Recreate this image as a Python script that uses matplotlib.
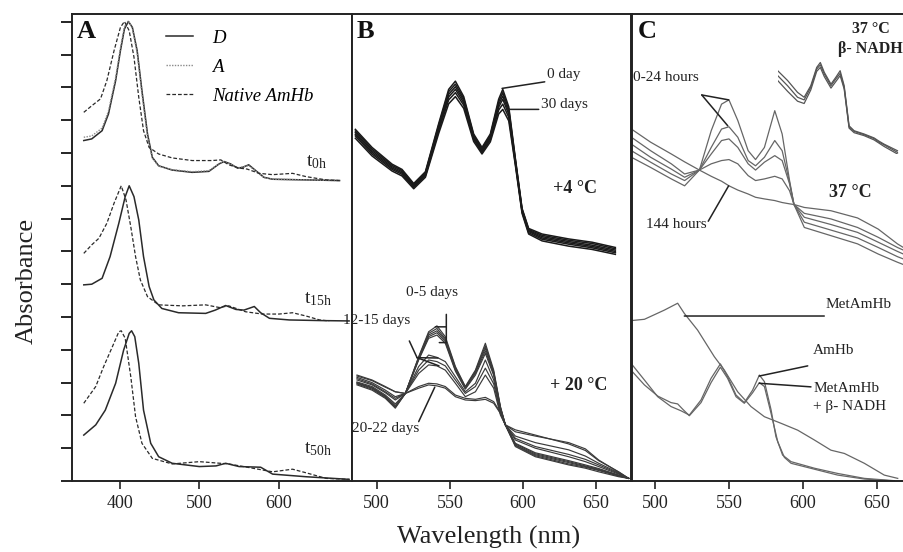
import matplotlib
matplotlib.use('Agg')
import matplotlib.pyplot as plt

plt.rcParams['font.family'] = ['Liberation Serif', 'DejaVu Serif']
plt.rcParams['mathtext.fontset'] = 'custom'
plt.rcParams['mathtext.rm'] = 'Liberation Serif'
plt.rcParams['mathtext.it'] = 'Liberation Serif:italic'

# ---------------- Panel A data (wavelength nm, absorbance a.u.) ----------------
A_wl_D_top = [355, 365, 378, 386, 395, 401, 406, 411, 416, 422, 428, 435, 441, 449, 466, 491, 512, 525, 531, 539, 548, 554, 562, 571, 581, 592, 634, 676]
A_D_top = [10.38, 10.43, 10.68, 11.19, 12.21, 13.12, 13.78, 14.01, 13.83, 13.12, 11.90, 10.58, 9.87, 9.61, 9.48, 9.41, 9.44, 9.67, 9.74, 9.67, 9.54, 9.56, 9.64, 9.46, 9.26, 9.20, 9.18, 9.16]
A_A_top = [10.48, 10.52, 10.76, 11.28, 12.30, 13.20, 13.85, 14.03, 13.80, 13.05, 11.80, 10.50, 9.84, 9.60, 9.49, 9.43, 9.46, 9.68, 9.74, 9.66, 9.55, 9.57, 9.62, 9.45, 9.25, 9.20, 9.18, 9.16]
A_wl_N_top = [355, 365, 376, 384, 393, 401, 406, 412, 418, 424, 430, 437, 449, 466, 491, 516, 527, 537, 550, 560, 575, 592, 617, 634, 659, 676]
A_N_top = [11.24, 11.44, 11.65, 12.21, 13.12, 13.83, 14.01, 13.73, 12.92, 11.70, 10.68, 10.17, 9.97, 9.85, 9.77, 9.77, 9.79, 9.64, 9.54, 9.51, 9.38, 9.34, 9.38, 9.28, 9.18, 9.16]

A_wl_D_mid = [355, 365, 378, 388, 399, 407, 412, 418, 424, 430, 437, 443, 453, 474, 508, 520, 533, 546, 556, 569, 577, 588, 613, 655, 688]
A_D_mid = [5.98, 6.00, 6.18, 6.84, 7.86, 8.67, 9.00, 8.67, 7.96, 6.84, 5.93, 5.52, 5.26, 5.13, 5.11, 5.21, 5.35, 5.23, 5.21, 5.32, 5.13, 4.96, 4.91, 4.89, 4.88]
A_wl_N_mid = [355, 365, 374, 384, 393, 402, 408, 414, 420, 426, 435, 449, 479, 508, 525, 537, 558, 579, 600, 617, 634, 651, 663]
A_N_mid = [6.94, 7.20, 7.40, 7.86, 8.47, 9.00, 8.57, 7.75, 6.84, 6.13, 5.62, 5.37, 5.34, 5.37, 5.29, 5.34, 5.16, 5.09, 5.09, 5.13, 5.03, 4.91, 4.88]

A_wl_D_bot = [355, 370, 382, 395, 405, 412, 415, 419, 424, 430, 439, 449, 466, 500, 521, 533, 550, 577, 592, 634, 688]
A_D_bot = [1.40, 1.71, 2.16, 2.98, 3.99, 4.50, 4.58, 4.40, 3.59, 2.16, 1.15, 0.74, 0.54, 0.44, 0.46, 0.54, 0.44, 0.42, 0.21, 0.13, 0.05]
A_wl_N_bot = [355, 370, 380, 391, 399, 402, 407, 414, 420, 428, 441, 466, 500, 537, 567, 592, 617, 634, 659, 688]
A_N_bot = [2.37, 2.88, 3.49, 4.10, 4.55, 4.58, 4.35, 3.18, 1.96, 1.15, 0.69, 0.52, 0.59, 0.52, 0.39, 0.28, 0.36, 0.25, 0.08, 0.05]

# ---------------- Panel B data ----------------
B_wl_top = [485.4, 496.8, 510.5, 517.3, 525.3, 533.3, 542.4, 549.2, 553.8, 559.5, 566.3, 572.0, 577.7, 583.4, 586.2, 590.3, 594.8, 599.4, 603.9, 613.1, 631.3, 647.3, 663.2]
B_top_4C = [
    [10.72, 10.17, 9.66, 9.50, 9.07, 9.43, 10.90, 11.94, 12.19, 11.72, 10.58, 10.17, 10.58, 11.64, 11.94, 11.41, 9.84, 8.31, 7.70, 7.53, 7.38, 7.28, 7.12],
    [10.67, 10.12, 9.62, 9.47, 9.04, 9.40, 10.85, 11.87, 12.10, 11.66, 10.54, 10.13, 10.54, 11.56, 11.84, 11.34, 9.81, 8.29, 7.67, 7.49, 7.34, 7.24, 7.08],
    [10.62, 10.07, 9.58, 9.43, 9.01, 9.37, 10.80, 11.79, 12.02, 11.60, 10.50, 10.09, 10.50, 11.48, 11.74, 11.26, 9.77, 8.26, 7.64, 7.45, 7.30, 7.19, 7.04],
    [10.57, 10.02, 9.54, 9.39, 8.98, 9.34, 10.74, 11.71, 11.94, 11.53, 10.46, 10.05, 10.45, 11.40, 11.64, 11.18, 9.73, 8.23, 7.61, 7.41, 7.26, 7.15, 7.00],
    [10.52, 9.97, 9.50, 9.35, 8.95, 9.30, 10.68, 11.62, 11.84, 11.46, 10.41, 10.01, 10.40, 11.31, 11.49, 11.09, 9.68, 8.20, 7.57, 7.37, 7.22, 7.11, 6.96],
    [10.45, 9.91, 9.45, 9.30, 8.91, 9.26, 10.60, 11.50, 11.72, 11.36, 10.35, 9.97, 10.34, 11.19, 11.33, 10.98, 9.63, 8.16, 7.53, 7.32, 7.16, 7.06, 6.91],
]
B_wl_bot = [486.5, 496.8, 505.9, 512.7, 519.6, 528.7, 535.5, 541.2, 546.9, 553.8, 560.6, 567.5, 574.3, 580.0, 584.6, 588.0, 594.8, 608.5, 631.3, 642.7, 651.8, 665.5, 672.3]
B_bot_20C = [
    [2.98, 2.83, 2.57, 2.27, 2.67, 3.79, 4.55, 4.73, 4.40, 3.49, 2.88, 3.38, 4.20, 3.38, 2.27, 1.71, 1.05, 0.74, 0.49, 0.39, 0.28, 0.13, 0.08],
    [3.00, 2.85, 2.59, 2.30, 2.67, 3.77, 4.50, 4.65, 4.34, 3.46, 2.86, 3.35, 4.12, 3.33, 2.25, 1.71, 1.08, 0.77, 0.52, 0.42, 0.32, 0.15, 0.08],
    [2.96, 2.80, 2.55, 2.25, 2.67, 3.74, 4.45, 4.58, 4.30, 3.43, 2.85, 3.32, 4.05, 3.30, 2.23, 1.71, 1.10, 0.80, 0.56, 0.44, 0.34, 0.16, 0.08],
    [3.02, 2.88, 2.62, 2.35, 2.67, 3.71, 4.40, 4.52, 4.25, 3.38, 2.82, 3.28, 3.97, 3.26, 2.21, 1.71, 1.13, 0.83, 0.59, 0.46, 0.36, 0.17, 0.08],
    [2.93, 2.77, 2.52, 2.22, 2.67, 3.69, 4.35, 4.45, 4.20, 3.35, 2.80, 3.23, 3.89, 3.22, 2.19, 1.71, 1.15, 0.86, 0.62, 0.49, 0.38, 0.18, 0.08],
    [3.08, 2.93, 2.69, 2.47, 2.67, 3.49, 3.84, 3.77, 3.64, 3.18, 2.72, 2.98, 3.69, 3.08, 2.11, 1.71, 1.25, 1.00, 0.74, 0.59, 0.44, 0.21, 0.08],
    [3.12, 2.96, 2.72, 2.52, 2.67, 3.38, 3.69, 3.64, 3.51, 3.08, 2.67, 2.88, 3.44, 2.96, 2.06, 1.71, 1.30, 1.05, 0.81, 0.66, 0.49, 0.23, 0.08],
    [3.16, 3.00, 2.77, 2.57, 2.67, 3.28, 3.54, 3.51, 3.38, 2.98, 2.57, 2.72, 3.23, 2.83, 2.01, 1.71, 1.37, 1.17, 0.95, 0.76, 0.54, 0.25, 0.08],
    [3.20, 3.06, 2.86, 2.72, 2.67, 2.88, 2.98, 2.96, 2.88, 2.62, 2.52, 2.49, 2.55, 2.42, 2.08, 1.71, 1.50, 1.37, 1.17, 0.98, 0.64, 0.27, 0.08],
    [3.23, 3.08, 2.88, 2.72, 2.67, 2.83, 2.93, 2.90, 2.83, 2.57, 2.47, 2.45, 2.49, 2.37, 2.06, 1.71, 1.56, 1.40, 1.13, 0.93, 0.62, 0.28, 0.08],
]

# ---------------- Panel C data ----------------
C_wl_top = [484, 497, 511, 520, 530, 538, 545, 550, 556, 563, 568, 574, 581, 586, 591, 594, 601, 619, 637, 651, 664, 668]
C_top_37C = [
    [9.87, 9.56, 9.21, 9.00, 9.48, 10.68, 11.49, 11.62, 10.99, 10.07, 9.80, 10.17, 11.29, 10.58, 9.16, 8.43, 7.73, 7.48, 7.23, 6.92, 6.67, 6.60],
    [10.07, 9.72, 9.36, 9.16, 9.48, 10.17, 10.73, 10.80, 10.48, 9.77, 9.61, 9.87, 10.38, 10.07, 9.11, 8.43, 7.89, 7.65, 7.41, 7.12, 6.84, 6.77],
    [10.27, 9.87, 9.51, 9.26, 9.48, 9.97, 10.38, 10.43, 10.17, 9.67, 9.48, 9.72, 9.92, 9.77, 9.06, 8.43, 8.04, 7.82, 7.58, 7.28, 7.00, 6.92],
    [10.48, 10.07, 9.67, 9.36, 9.48, 9.67, 9.77, 9.80, 9.67, 9.31, 9.16, 9.21, 9.29, 9.21, 8.85, 8.43, 8.16, 7.99, 7.73, 7.43, 7.12, 7.04],
    [10.73, 10.33, 9.97, 9.73, 9.48, 9.29, 9.14, 9.00, 8.87, 8.75, 8.65, 8.60, 8.55, 8.49, 8.45, 8.43, 8.34, 8.24, 8.02, 7.68, 7.23, 7.12],
]
C_wl_inset = [484, 499, 514, 524, 534, 543, 548.5, 554.5, 564.6, 572, 578.5, 584.6, 592, 599.6, 614.7, 629.8, 637.4, 645, 665.2]
C_inset_NADH = [
    [12.51, 12.21, 11.85, 11.70, 12.05, 12.61, 12.76, 12.46, 12.10, 12.31, 12.51, 12.05, 10.83, 10.68, 10.58, 10.46, 10.36, 10.27, 10.07],
    [12.36, 12.05, 11.70, 11.62, 12.00, 12.56, 12.69, 12.41, 12.05, 12.26, 12.43, 12.00, 10.80, 10.66, 10.56, 10.44, 10.33, 10.25, 10.02],
    [12.21, 11.88, 11.58, 11.51, 11.92, 12.49, 12.61, 12.33, 11.98, 12.18, 12.36, 11.95, 10.76, 10.62, 10.53, 10.40, 10.30, 10.20, 9.97],
]
C_wl_met = [483.7, 492.8, 506.3, 515.3, 519.8, 528.8, 540.1, 546.9, 555.9, 564.9, 574.0, 585.2, 596.5, 607.8, 619.0, 628.1, 641.6, 655.1, 664.2]
C_met = [4.89, 4.93, 5.21, 5.42, 5.11, 4.60, 3.79, 3.38, 2.72, 2.27, 1.96, 1.76, 1.55, 1.25, 0.94, 0.84, 0.54, 0.18, 0.08]
C_wl_amhb = [483.7, 492.8, 501.8, 510.8, 517.6, 523.2, 531.1, 537.9, 544.2, 549.1, 554.8, 560.4, 566.0, 570.6, 574.0, 578.5, 581.8, 586.3, 592.0, 607.8, 623.6, 641.6, 661.9]
C_amhb = [3.59, 3.08, 2.57, 2.27, 2.14, 2.01, 2.47, 3.13, 3.57, 3.18, 2.62, 2.39, 2.77, 3.23, 3.03, 2.17, 1.35, 0.79, 0.59, 0.39, 0.23, 0.08, 0.01]
C_wl_nadh = [483.7, 492.8, 501.8, 510.8, 515.3, 518.7, 523.2, 531.1, 537.9, 544.2, 549.1, 554.8, 560.4, 566.0, 570.6, 574.0, 578.5, 583.0, 587.5, 592.0, 607.8, 623.6, 641.6, 661.9]
C_nadh = [3.38, 2.93, 2.59, 2.39, 2.35, 2.19, 1.99, 2.39, 3.00, 3.47, 3.13, 2.57, 2.37, 2.69, 3.00, 2.88, 2.06, 1.20, 0.72, 0.54, 0.36, 0.18, 0.06, 0.00]

A_xticks = [400, 500, 600]
BC_xticks = [500, 550, 600, 650]
A_yticks = list(range(0, 15))

# ---------------- Figure ----------------
W, H = 904, 552
fig = plt.figure(figsize=(W / 100, H / 100), dpi=100)


def rect(x0, x1, y0, y1):
    return [x0 / W, 1 - y1 / H, (x1 - x0) / W, (y1 - y0) / H]


axA = fig.add_axes(rect(72.3, 352.3, 14, 481))
axB = fig.add_axes(rect(352.3, 630.7, 14, 481))
axC = fig.add_axes(rect(631.7, 906, 14, 481))

YMAX = 14.238
for ax in (axA, axB, axC):
    ax.set_ylim(0, YMAX)
    for s in ax.spines.values():
        s.set_linewidth(1.4)
        s.set_color('#222222')
    ax.tick_params(axis='x', direction='out', length=6, width=1.2, pad=4,
                   labelsize=13, colors='#222222')
    ax.tick_params(axis='y', left=False, labelleft=False)
axC.spines['right'].set_visible(False)

axA.set_xlim(340.6, 692)
axB.set_xlim(483.3, 673.7)
axC.set_xlim(484.2, 669.8)
axA.set_xticks(A_xticks)
axB.set_xticks(BC_xticks)
axC.set_xticks(BC_xticks)
axA.set_yticks(A_yticks)
axA.tick_params(axis='y', left=True, direction='out', length=8, width=1.2)

# Panel A curves
solid = dict(color='#2a2a2a', lw=1.1)
dotted = dict(color='#8a8a8a', lw=1.0, ls=(0, (1, 1)))
dashed = dict(color='#2a2a2a', lw=0.9, ls=(0, (3, 1.6)))
axA.plot(A_wl_D_top, A_D_top, label='D', **solid)
axA.plot(A_wl_D_top, A_A_top, label='A', **dotted)
axA.plot(A_wl_N_top, A_N_top, label='Native AmHb', **dashed)
axA.plot(A_wl_D_mid, A_D_mid, **solid)
axA.plot(A_wl_N_mid, A_N_mid, **dashed)
axA.plot(A_wl_D_bot, A_D_bot, **solid)
axA.plot(A_wl_N_bot, A_N_bot, **dashed)
axA.legend(loc='upper left', bbox_to_anchor=(0.335, 0.966), frameon=False,
           prop={'family': 'Liberation Serif', 'style': 'italic', 'size': 13.5},
           handlelength=1.45, handletextpad=1.0, labelspacing=0.62,
           borderpad=0, borderaxespad=0)

tfont = dict(fontsize=14, color='#222222', va='baseline', ha='left')
axA.text(633.3, 9.60, r'$\mathrm{t}_{\mathrm{0h}}$', **tfont)
axA.text(631.7, 5.41, r'$\mathrm{t}_{\mathrm{15h}}$', **tfont)
axA.text(631.7, 0.84, r'$\mathrm{t}_{\mathrm{50h}}$', **tfont)

# Panel B curves
for c in B_top_4C:
    axB.plot(B_wl_top, c, color='#1a1a1a', lw=1.1)
for c in B_bot_20C:
    axB.plot(B_wl_bot, c, color='#3a3a3a', lw=0.85)

# Panel C curves
for c in C_top_37C:
    axC.plot(C_wl_top, c, color='#666666', lw=0.9)
axC.plot(C_wl_met, C_met, color='#666666', lw=0.9)
axC.plot(C_wl_amhb, C_amhb, color='#666666', lw=0.9)
axC.plot(C_wl_nadh, C_nadh, color='#666666', lw=0.9)

ins = fig.add_axes(rect(777.7, 899.3, 60.7, 154))
ins.set_xlim(484, 668)
ins.set_ylim(9.97, 12.815)
ins.axis('off')
for c in C_inset_NADH:
    ins.plot(C_wl_inset, c, color='#555555', lw=0.9)

# ---------------- Text & leaders ----------------
lab = dict(fontsize=11, color='#222222')
bold = dict(fontsize=13, color='#222222', fontweight='bold')


def leader(ax, p0, p1):
    ax.annotate('', xy=p1, xytext=p0, annotation_clip=False,
                arrowprops=dict(arrowstyle='-', lw=1.1, color='#222222',
                                shrinkA=0, shrinkB=0))


# panel letters
for ax, letter, x in ((axA, 'A', 77), (axB, 'B', 357), (axC, 'C', 638)):
    fig.text(x / W, 1 - 38.5 / H, letter, fontsize=19, fontweight='bold',
             ha='left', va='baseline', color='#111111')

# B top
axB.text(616.5, 12.38, '0 day', ha='left', va='center', **lab)
leader(axB, (614.9, 12.17), (585.7, 11.97))
axB.text(612.6, 11.49, '30 days', ha='left', va='center', **lab)
leader(axB, (610.8, 11.33), (590.3, 11.33))
axB.text(635.6, 8.93, '+4 °C', ha='center', va='center', **bold)

# B bottom
axB.text(537.8, 5.76, '0-5 days', ha='center', va='center', **lab)
leader(axB, (547.6, 5.08), (547.6, 4.22))
leader(axB, (540.1, 4.70), (547.6, 4.70))
leader(axB, (542.8, 4.22), (547.6, 4.22))
axB.text(476.9, 4.88, '12-15 days', ha='left', va='center', clip_on=False, **lab)
leader(axB, (522.3, 4.27), (527.6, 3.76))
leader(axB, (527.6, 3.76), (541.9, 3.75))
leader(axB, (527.6, 3.76), (542.6, 3.51))
axB.text(506.3, 1.59, '20-22 days', ha='center', va='center', **lab)
leader(axB, (528.7, 1.81), (539.7, 2.86))
axB.text(638.4, 2.91, '+ 20 °C', ha='center', va='center', **bold)

# C top
axC.text(645.8, 13.78, '37 °C', ha='center', va='center', fontsize=11.5,
         fontweight='bold', color='#222222')
axC.text(645.5, 13.17, 'β- NADH', ha='center', va='center', fontsize=11.5,
         fontweight='bold', color='#222222')
axC.text(507.4, 12.31, '0-24 hours', ha='center', va='center', **lab)
leader(axC, (531.6, 11.77), (549.8, 11.62))
leader(axC, (531.6, 11.77), (549.2, 10.83))
axC.text(632.4, 8.80, '37 °C', ha='center', va='center', fontsize=13,
         fontweight='bold', color='#222222')
axC.text(514.5, 7.81, '144 hours', ha='center', va='center', **lab)
leader(axC, (536.0, 7.92), (549.8, 9.00))

# C bottom
axC.text(615.3, 5.39, 'MetAmHb', ha='left', va='center', **lab)
leader(axC, (519.8, 5.03), (614.5, 5.03))
axC.text(606.9, 3.97, 'AmHb', ha='left', va='center', **lab)
leader(axC, (570.5, 3.20), (603.3, 3.51))
axC.text(606.9, 2.83, 'MetAmHb', ha='left', va='center', **lab)
axC.text(606.9, 2.27, '+ β- NADH', ha='left', va='center', **lab)
leader(axC, (570.5, 2.98), (605.5, 2.87))

# axis labels
fig.text(488.5 / W, 1 - 537 / H, 'Wavelength (nm)', fontsize=19,
         ha='center', va='center', color='#222222')
fig.text(27 / W, 1 - 281 / H, 'Absorbance', fontsize=19, rotation=90,
         ha='center', va='center', color='#222222')

fig.savefig('out.png', dpi=100)
